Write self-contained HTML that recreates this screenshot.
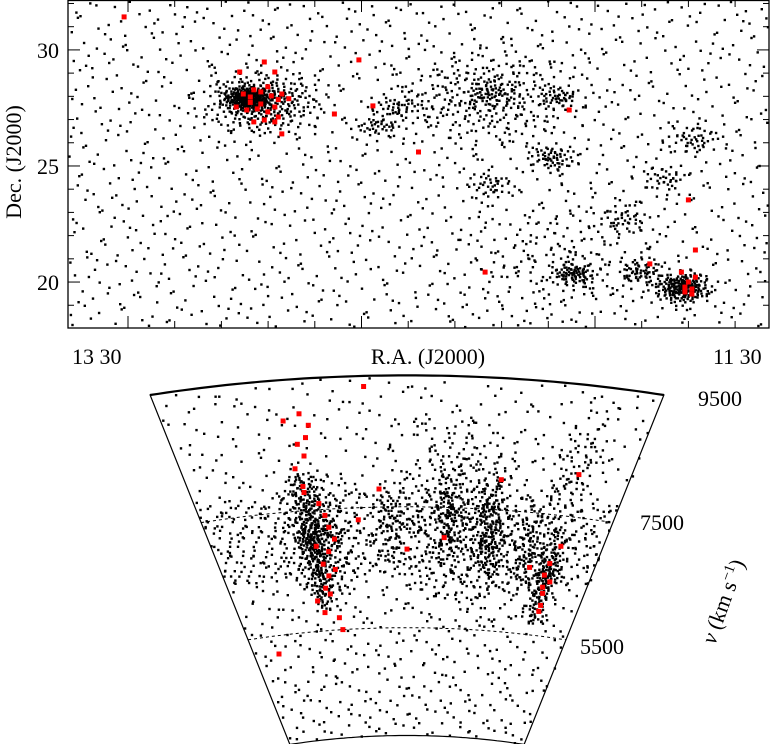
<!DOCTYPE html>
<html><head><meta charset="utf-8">
<style>
html,body{margin:0;padding:0;background:#fff;}
svg{display:block;}
text{font-family:"Liberation Serif",serif;fill:#000;}
</style></head>
<body>
<svg id="chart" width="777" height="744" viewBox="0 0 777 744" xmlns="http://www.w3.org/2000/svg">
<g id="toppanel"></g>
<g id="wedge"></g>
</svg>
<script>
// ---- data: galaxy structures (RA hours, Dec deg, velocity km/s) ----
const clusterNames = ["coma-core","coma-halo","filament-a","group-b","group-c","group-d","a1367","group-e","group-f","group-g","group-h","group-i","group-j","group-k","north-band","south-band"];
const clusterRA    = [12.99, 12.95, 12.30, 12.10, 12.12, 12.62, 11.75, 11.87, 12.06, 11.72, 11.92, 12.30, 11.80, 12.55, 12.30, 12.10];
const clusterDec   = [27.95, 27.80, 28.20, 28.00, 25.40, 26.80, 19.80, 20.50, 20.40, 26.20, 22.80, 24.20, 24.50, 27.60, 28.00, 21.00];
const clusterSpread= [0.65, 1.70, 0.70, 0.60, 0.75, 0.70, 0.85, 0.70, 0.65, 0.85, 0.85, 0.75, 0.75, 0.85, 2.60, 3.20];
const clusterCount = [250, 300, 45, 40, 60, 40, 200, 60, 80, 45, 40, 35, 35, 45, 260, 120];
const clusterVel   = [7000, 7100, 7400, 7600, 7300, 7200, 6500, 6800, 6900, 8500, 7000, 7500, 8000, 7300, 7500, 7000];
const clusterVSpr  = [1150, 1000, 700, 700, 800, 600, 800, 700, 700, 900, 800, 800, 800, 700, 1500, 1500];
const fieldCount = 800;
const wallCount = 550;
const wallVel = 7100, wallVSpr = 700;

// red-marked galaxies
const redRA  = [13.34,12.94,12.91,13.01,12.97,13.00,12.98,12.95,12.93,12.92,12.90,12.89,12.87,12.91,12.95,12.93,12.96,12.98,13.02,12.99,12.97,12.94,12.91,12.90,12.89,12.74,12.67,12.63,12.50,12.31,12.07,11.84,11.73,11.71,11.75,11.73,11.72,11.74,11.71,11.74,11.72];
const redDec = [31.42,29.48,29.05,29.05,28.28,28.10,27.97,28.19,28.41,28.02,27.86,28.10,27.90,27.54,27.67,27.33,27.46,27.74,27.54,27.41,26.90,26.98,26.90,27.11,26.38,27.24,29.57,27.59,25.60,20.43,27.41,20.78,23.54,21.38,20.43,20.00,19.70,19.57,20.21,19.78,19.48];
const redVel = [5200,9100,8900,9000,8600,8200,7900,8400,8700,7600,7400,7200,7000,6800,6600,6400,6200,7800,6000,5800,6900,6100,5700,5500,6500,7300,9500,7800,6800,7000,8000,6600,8200,7000,6500,6200,6000,6700,6400,6300,5900];

const velTicks = [9500, 7500, 5500];
const decTicks = [20, 25, 30];

// ---- axes ----
const TX0=68, TX1=769, TY0=0, TY1=328;
const raMin=11.5, raMax=13.5, decMin=18.02, decMax=32.15;
const xRA = ra => TX0 + (raMax-ra)/(raMax-raMin)*(TX1-TX0);
const yDec = d => TY0 + (decMax-d)/(decMax-decMin)*(TY1-TY0);
const AX=407, AY=1037, HALF=14*Math.PI/180, KY=0.623;
const vTop=9675, vBot=3716;
const rV = v => 657 + (v-5500)*0.097;
function wedgePt(ra, v){ const a=(12.5-ra)*HALF; const r=rV(v); return [AX+r*Math.sin(a), AY-r*KY*Math.cos(a)]; }

function halton(i,b){let f=1,r=0;while(i>0){f/=b;r+=f*(i%b);i=Math.floor(i/b);}return r;}

const NS="http://www.w3.org/2000/svg";
function mk(tag, attrs, parent){const e=document.createElementNS(NS,tag);for(const k in attrs)e.setAttribute(k,attrs[k]);parent.appendChild(e);return e;}

const gal=[];
let seq=1;
for(let c=0;c<clusterNames.length;c++){
  for(let i=0;i<clusterCount[c];i++){
    const u1=halton(seq,2), u2=halton(seq,3), u3=halton(seq,5); seq++;
    const rr=clusterSpread[c]*Math.sqrt(-Math.log(1-u1*0.98))*0.7;
    const th=u2*2*Math.PI;
    const dec=clusterDec[c]+rr*Math.sin(th)*0.8;
    const ra=clusterRA[c]+rr*Math.cos(th)/15/Math.cos(dec*Math.PI/180)*1.3;
    const v=clusterVel[c]+(u3*2-1)*clusterVSpr[c]*(0.4+0.6*Math.abs(u3*2-1));
    gal.push([ra,dec,v]);
  }
}
for(let i=0;i<fieldCount;i++){const k=seq++;gal.push([raMin+halton(k,2)*(raMax-raMin),decMin+halton(k,3)*(decMax-decMin),vBot+halton(k,5)*(vTop-vBot)]);}
for(let i=0;i<wallCount;i++){const k=seq++;gal.push([raMin+halton(k,2)*(raMax-raMin),decMin+halton(k,3)*(decMax-decMin),wallVel+(halton(k,5)*2-1)*wallVSpr]);}

// ---- top panel ----
const topG=document.getElementById('toppanel');
const ptsTop=mk('g',{},topG);


for(const g of gal){
  const x=xRA(g[0]), y=yDec(g[1]);
  if(x<TX0||x>TX1-2||y<TY0||y>TY1-2) continue;
  const r=mk('rect',{x:x.toFixed(1),y:y.toFixed(1),width:2.4,height:2.4,fill:'#000'},ptsTop);
  
  
}
const redTop=mk('g',{},topG);


for(let i=0;i<redRA.length;i++){
  const r=mk('rect',{x:(xRA(redRA[i])-2.5).toFixed(1),y:(yDec(redDec[i])-2.5).toFixed(1),width:5,height:5,fill:'#ff0000'},redTop);
  
  
}
const frame=mk('rect',{x:TX0,y:TY0+0.5,width:TX1-TX0,height:TY1-TY0-0.5,fill:'none',stroke:'#000','stroke-width':1.3},topG);


for(let d=19; d<=32; d++){
  const y=yDec(d), L=(d%5===0)?12:6;
  mk('line',{x1:TX0,x2:TX0+L,y1:y,y2:y,stroke:'#000','stroke-width':1},topG);
  mk('line',{x1:TX1-L,x2:TX1,y1:y,y2:y,stroke:'#000','stroke-width':1},topG);
}
for(let k=0;k<15;k++){
  const x=128+k*46.7; if(x>=TX1) break; const L=(k%5===0)?12:7;
  mk('line',{x1:x,x2:x,y1:TY1-L,y2:TY1,stroke:'#000','stroke-width':1},topG);
  mk('line',{x1:x,x2:x,y1:TY0,y2:TY0+L,stroke:'#000','stroke-width':1},topG);
}
for(const d of decTicks){
  const t=mk('text',{x:59,y:yDec(d)+8,'font-size':22,'text-anchor':'end'},topG);
  t.textContent=d;
  
  
}
</script>
<script>
(function(){
const tg=document.getElementById('toppanel');
function T(txt,attrs,name){const e=document.createElementNS("http://www.w3.org/2000/svg",'text');for(const k in attrs)e.setAttribute(k,attrs[k]);e.textContent=txt;tg.appendChild(e);

return e;}
T('13 30',{x:72,y:364,'font-size':22},'ra-tick-label-left');
T('R.A. (J2000)',{x:428,y:364,'font-size':22,'text-anchor':'middle'},'x-axis-title');
T('11 30',{x:713,y:364,'font-size':22},'ra-tick-label-right');
T('Dec. (J2000)',{x:0,y:0,'font-size':22,'text-anchor':'middle',transform:'translate(21,162) rotate(-90)'},'y-axis-title');
})();
</script>
<script>
(function(){
const w=document.getElementById('wedge');
function arc(v,n){let s='';for(let i=0;i<=n;i++){const ra=13.5-2*i/n;const p=wedgePt(ra,v);s+=(i?'L':'M')+p[0].toFixed(1)+','+p[1].toFixed(1);}return s;}
for(const v of [7500,5500]){
  const p=mk('path',{d:arc(v,60),fill:'none',stroke:'#000','stroke-width':1,'stroke-dasharray':'3,3'},w);
  
  
}
const pts=mk('g',{},w);


for(const g of gal){
  if(g[2]<vBot+15||g[2]>vTop-15) continue;
  const p=wedgePt(g[0],g[2]);
  const r=mk('rect',{x:p[0].toFixed(1),y:p[1].toFixed(1),width:2.4,height:2.4,fill:'#000'},pts);
  
  
}
const red=mk('g',{},w);


for(let i=0;i<redRA.length;i++){
  const p=wedgePt(redRA[i],redVel[i]);
  const r=mk('rect',{x:(p[0]-2.5).toFixed(1),y:(p[1]-2.5).toFixed(1),width:5,height:5,fill:'#ff0000'},red);
  
  
}
let d=arc(vTop,60);
const b=[];for(let i=60;i>=0;i--){const ra=13.5-2*i/60;const p=wedgePt(ra,vBot);b.push(p[0].toFixed(1)+','+p[1].toFixed(1));}
d+='L'+b.join('L')+'Z';
const o=mk('path',{d:d,fill:'none',stroke:'#000','stroke-width':1.2},w);


const tk=mk('path',{d:arc(vTop,60),fill:'none',stroke:'#000','stroke-width':2.2},w);


const lx=[698,640,580], ly=[406,530,654];
for(let i=0;i<velTicks.length;i++){
  const t=mk('text',{x:lx[i],y:ly[i],'font-size':22},w);
  t.textContent=velTicks[i];
  
  
}
const t=mk('text',{x:0,y:0,'font-size':22,'text-anchor':'middle',transform:'translate(730,604) rotate(-70)'},w);
t.innerHTML='<tspan font-style="italic">v</tspan> (km s<tspan dy="-8" font-size="15">−1</tspan><tspan dy="8">)</tspan>';


})();
</script>
</body></html>
